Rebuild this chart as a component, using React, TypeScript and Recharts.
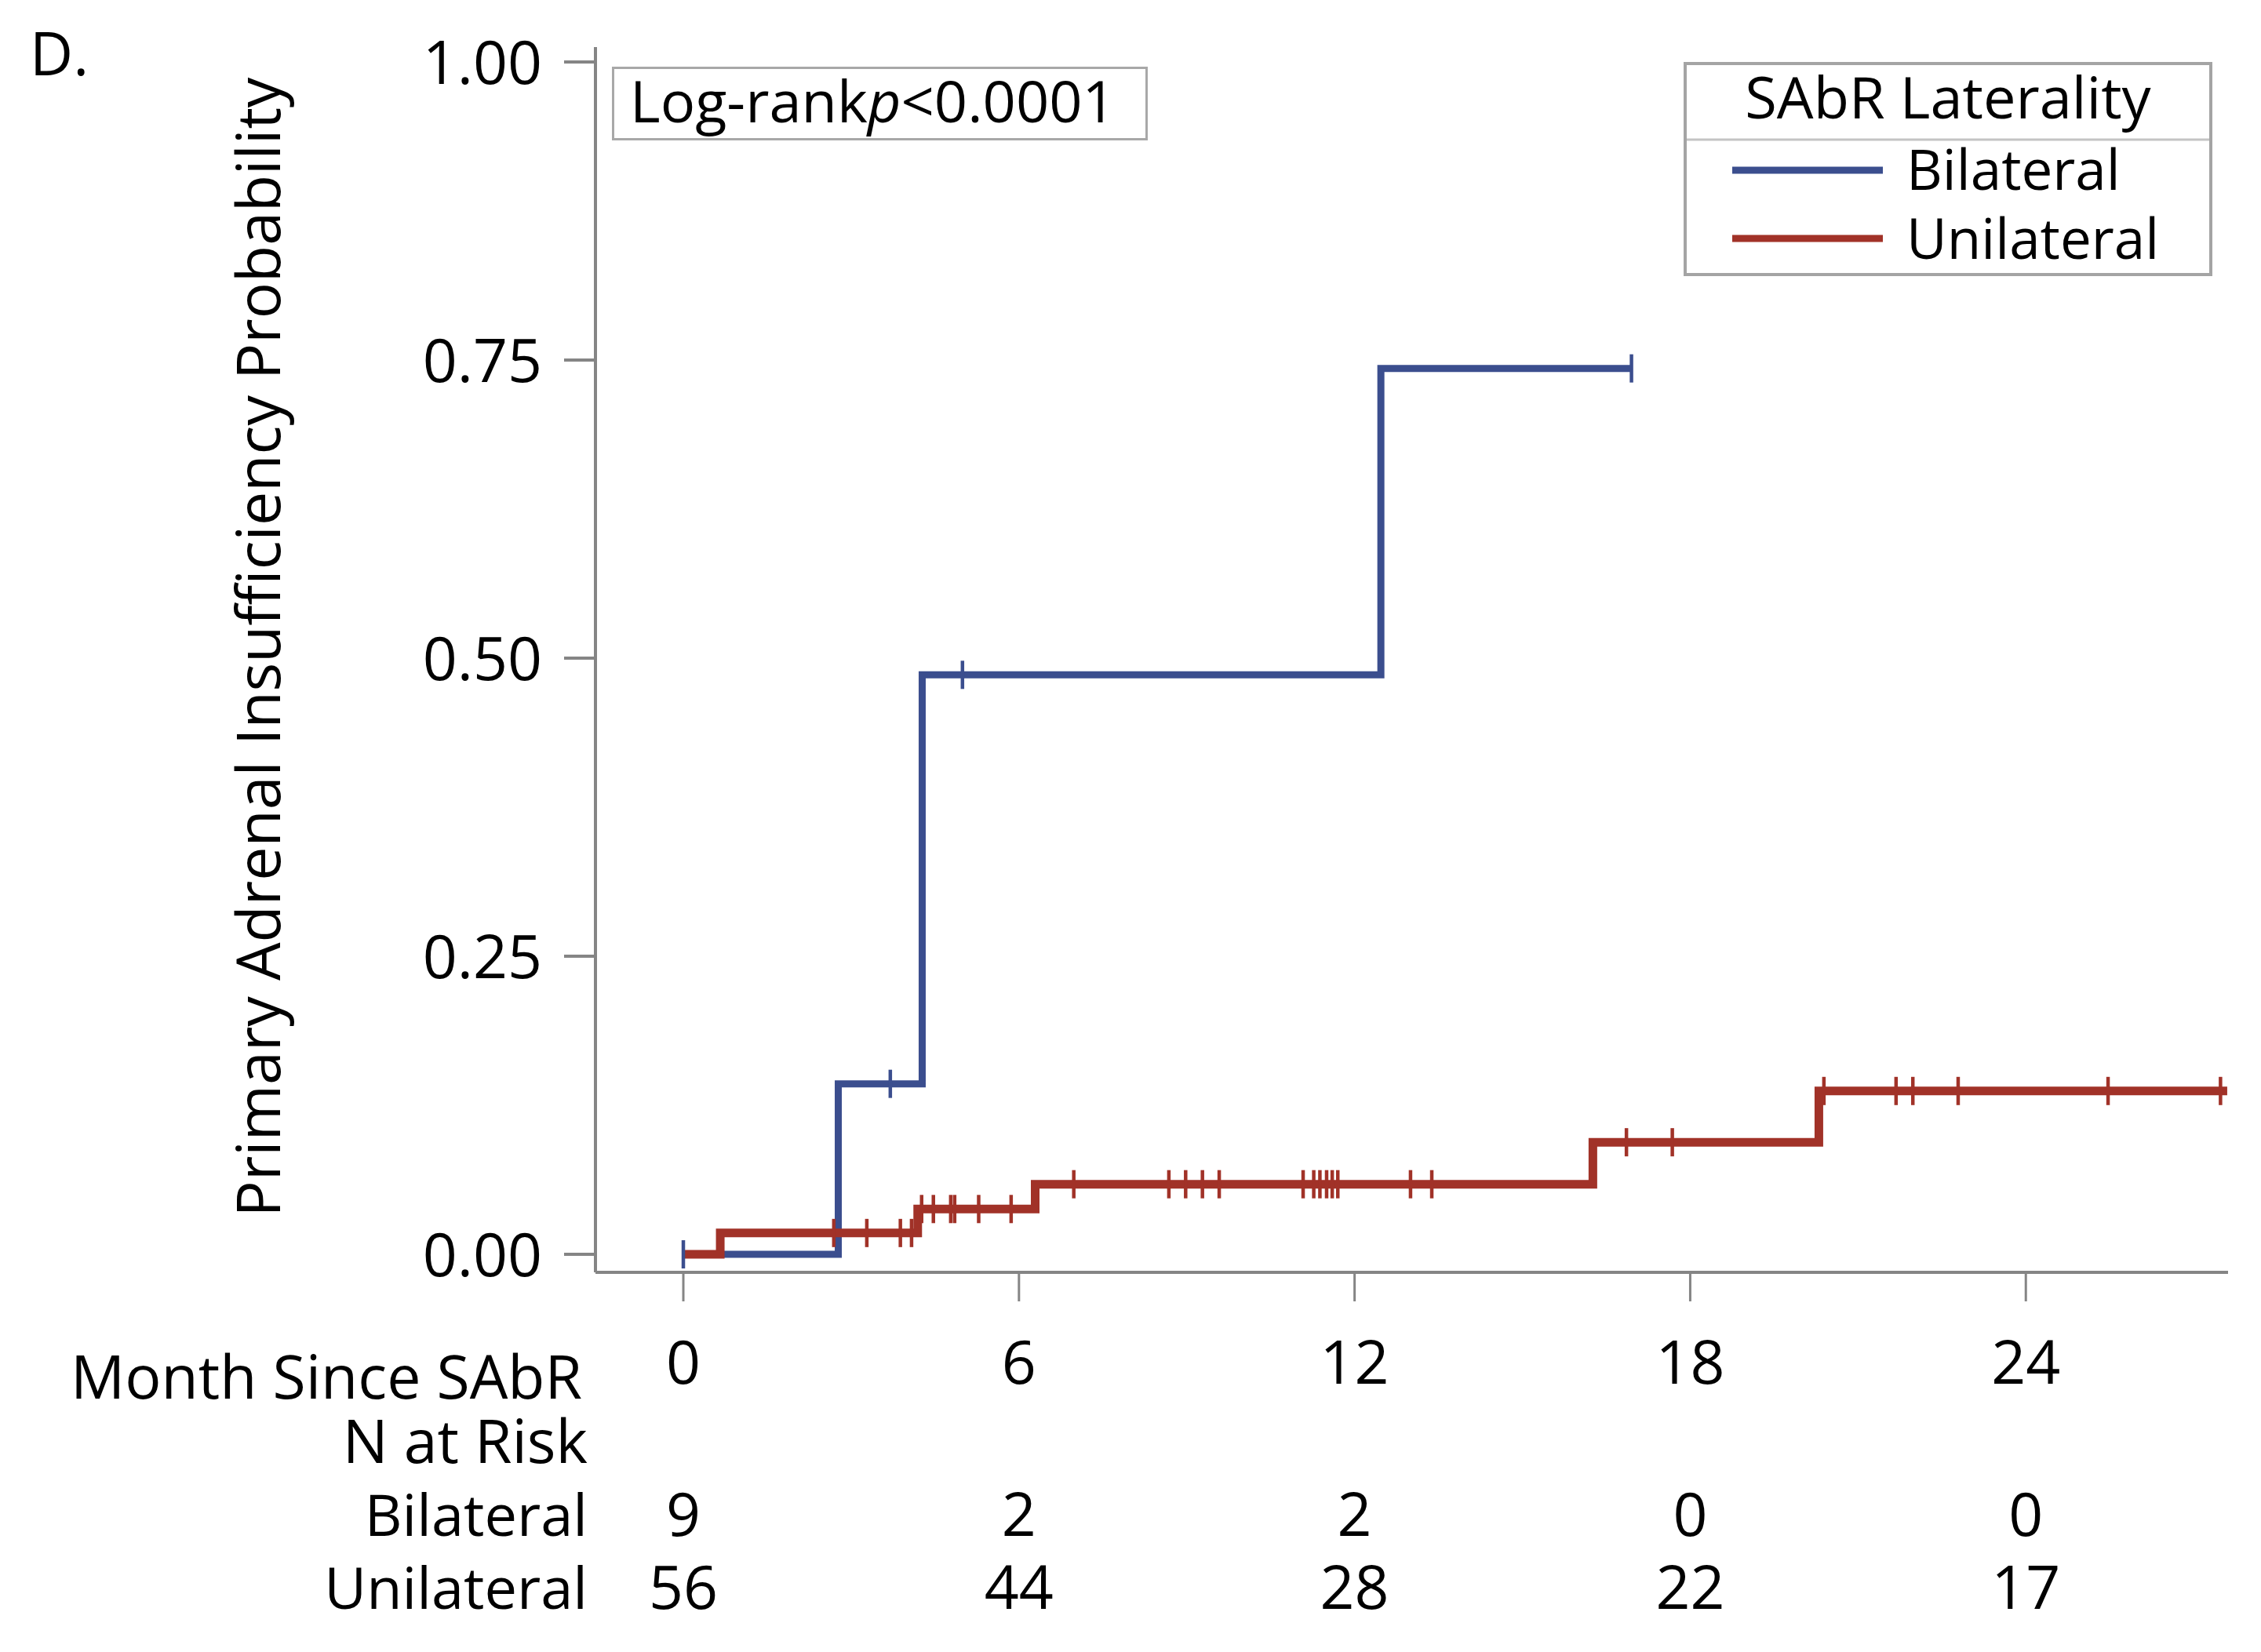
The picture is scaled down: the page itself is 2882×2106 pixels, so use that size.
import React from 'react';
import { LineChart, Line, XAxis, YAxis, Legend } from 'recharts';

// ---------- data ----------
const seriesNames = ['Bilateral', 'Unilateral'];
const monthTicks = [0, 6, 12, 18, 24];
const probTicks = [0, 0.25, 0.5, 0.75, 1.0];
const bilateralAtRisk = [9, 2, 2, 0, 0];
const unilateralAtRisk = [56, 44, 28, 22, 17];

// Kaplan-Meier cumulative incidence, Bilateral (t: month, v: probability, c: censored)
const bilateralT = [0, 2.77, 3.7, 4.27, 4.99, 12.47, 16.95];
const bilateralV = [0, 0.143, 0.143, 0.486, 0.486, 0.743, 0.743];
const bilateralC = [1, 0, 1, 0, 1, 0, 1];

// Unilateral
const unilateralT = [
  0, 0.66, 2.69, 3.28, 3.88, 4.08, 4.19, 4.26, 4.47, 4.78, 4.85, 5.28, 5.86,
  6.29, 6.98, 8.68, 8.98, 9.28, 9.58, 11.08, 11.27, 11.38, 11.5, 11.6, 11.7,
  13.0, 13.38, 16.26, 16.86, 17.68, 20.3, 20.39, 21.68, 21.98, 22.79, 25.47,
  27.48, 27.6,
];
const unilateralV = [
  0, 0.0179, 0.0179, 0.0179, 0.0179, 0.0179, 0.038, 0.038, 0.038, 0.038, 0.038,
  0.038, 0.038, 0.0588, 0.0588, 0.0588, 0.0588, 0.0588, 0.0588, 0.0588, 0.0588,
  0.0588, 0.0588, 0.0588, 0.0588, 0.0588, 0.0588, 0.094, 0.094, 0.094, 0.137,
  0.137, 0.137, 0.137, 0.137, 0.137, 0.137, 0.137,
];
const unilateralC = [
  0, 0, 1, 1, 1, 1, 0, 1, 1, 1, 1, 1, 1, 0, 1, 1, 1, 1, 1, 1, 1, 1, 1, 1, 1, 1,
  1, 0, 1, 1, 0, 1, 1, 1, 1, 1, 1, 0,
];

const bilateralData = bilateralT.map((t, i) => ({ t, v: bilateralV[i], c: bilateralC[i] }));
const unilateralData = unilateralT.map((t, i) => ({ t, v: unilateralV[i], c: unilateralC[i] }));

// ---------- style ----------
const BLUE = '#3b4e8e';
const RED = '#a13228';
const AXIS = '#858585';
const FONT = '"Open Sans", "Noto Sans", sans-serif';
const W = 2866;
const H = 2090;
const X_TICK = 37;
const Y_TICK = 40;
const FS = 77;
const FS_ROW = 74;

const censorDot = (color: string) => (props: any) => {
  const { cx, cy, payload, index } = props;
  if (!payload || !payload.c || cx == null || cy == null) return <g key={`d${index}`} />;
  return (
    <line key={`d${index}`} x1={cx} x2={cx} y1={cy - 18} y2={cy + 18} stroke={color} strokeWidth={4.5} />
  );
};

const MonthTick = (props: any) => {
  const { x, y, payload } = props;
  const axisY = y - X_TICK;
  const i = monthTicks.indexOf(payload.value);
  const txt = { fontFamily: FONT, fontSize: FS, fill: '#000' } as any;
  const row = { fontFamily: FONT, fontSize: FS_ROW, fill: '#000' } as any;
  return (
    <g>
      <text x={x} y={axisY + 142} textAnchor="middle" {...txt}>{payload.value}</text>
      <text x={x} y={axisY + 336} textAnchor="middle" {...txt}>{bilateralAtRisk[i]}</text>
      <text x={x} y={axisY + 429} textAnchor="middle" {...txt}>{unilateralAtRisk[i]}</text>
      {i === 0 && (
        <g>
          <text x={734} y={axisY + 161} textAnchor="end" {...txt}>Month Since SAbR</text>
          <text x={741} y={axisY + 243} textAnchor="end" {...txt}>N at Risk</text>
          <text x={741} y={axisY + 336} textAnchor="end" {...row}>{seriesNames[0]}</text>
          <text x={741} y={axisY + 429} textAnchor="end" {...row}>{seriesNames[1]}</text>
        </g>
      )}
    </g>
  );
};

const ProbTick = (props: any) => {
  const { x, y, payload } = props;
  return (
    <text x={x} y={y + 28} textAnchor="end" fontFamily={FONT} fontSize={FS} fill="#000">
      {Number(payload.value).toFixed(2)}
    </text>
  );
};

const YTitle = () => (
  <text
    x={349}
    y={817}
    transform="rotate(-90, 349, 817)"
    textAnchor="middle"
    fontFamily={FONT}
    fontSize={77}
    fill="#000"
  >
    Primary Adrenal Insufficiency Probability
  </text>
);

const LegendBox = (props: any) => {
  const items = (props.payload || []) as any[];
  return (
    <svg width={674} height={273} style={{ display: 'block', overflow: 'visible' }}>
      <rect x={2} y={2} width={670} height={269} fill="#fff" stroke="#a4a4a4" strokeWidth={4} />
      <line x1={4} x2={670} y1={99} y2={99} stroke="#c4c4c4" strokeWidth={3} />
      <text x={337} y={72} textAnchor="middle" fontFamily={FONT} fontSize={74} fill="#000">
        SAbR Laterality
      </text>
      {items.map((it, k) => (
        <g key={it.value}>
          <line x1={62} x2={254} y1={138 + k * 87} y2={138 + k * 87} stroke={it.color} strokeWidth={9} />
          <text x={284} y={163 + k * 88} fontFamily={FONT} fontSize={71} fill="#000">
            {it.value}
          </text>
        </g>
      ))}
    </svg>
  );
};

export default function App() {
  return (
    <div style={{ position: 'relative', width: W, height: H, background: '#fff' }}>
      <svg
        width={140}
        height={120}
        style={{ position: 'absolute', left: 0, top: 0, overflow: 'visible' }}
      >
        <text x={30} y={88} fontFamily={FONT} fontSize={76} fill="#000">D.</text>
      </svg>
      <div
        style={{
          position: 'absolute',
          left: 772,
          top: 77,
          width: 683,
          height: 94,
          boxSizing: 'border-box',
          border: '3px solid #a8a8a8',
          background: '#fff',
          zIndex: 2,
        }}
      >
        <svg width={677} height={88} style={{ display: 'block', overflow: 'visible' }}>
          <text x={20} y={68} fontFamily={FONT} fontSize={74} fill="#000">
            Log-rank<tspan fontStyle="italic">p</tspan>&lt;0.0001
          </text>
        </svg>
      </div>
      <LineChart width={W} height={H} margin={{ top: 52, right: 34, bottom: 0, left: 0 }}>
        <XAxis
          type="number"
          dataKey="t"
          domain={[-1.571, 27.615]}
          ticks={monthTicks}
          allowDataOverflow
          height={476}
          axisLine={{ stroke: AXIS, strokeWidth: 4 }}
          tickLine={{ stroke: AXIS, strokeWidth: 3 }}
          tickSize={X_TICK}
          tickMargin={0}
          tick={<MonthTick />}
          interval={0}
        />
        <YAxis
          type="number"
          dataKey="v"
          domain={[-0.0151, 1.0125]}
          ticks={probTicks}
          allowDataOverflow
          width={751}
          axisLine={{ stroke: AXIS, strokeWidth: 4 }}
          tickLine={{ stroke: AXIS, strokeWidth: 4 }}
          tickSize={Y_TICK}
          tickMargin={28}
          tick={<ProbTick />}
          interval={0}
          label={<YTitle />}
        />
        <Legend
          layout="horizontal"
          verticalAlign="middle"
          align="center"
          content={<LegendBox />}
          wrapperStyle={{ position: 'absolute', left: 2138, top: 71, width: 674, height: 273 }}
        />
        <Line
          name={seriesNames[0]}
          data={bilateralData}
          dataKey="v"
          type="stepAfter"
          stroke={BLUE}
          strokeWidth={9}
          dot={censorDot(BLUE)}
          activeDot={false}
          isAnimationActive={false}
          strokeLinejoin="miter"
        />
        <Line
          name={seriesNames[1]}
          data={unilateralData}
          dataKey="v"
          type="stepAfter"
          stroke={RED}
          strokeWidth={11}
          dot={censorDot(RED)}
          activeDot={false}
          isAnimationActive={false}
          strokeLinejoin="miter"
        />
      </LineChart>
    </div>
  );
}
